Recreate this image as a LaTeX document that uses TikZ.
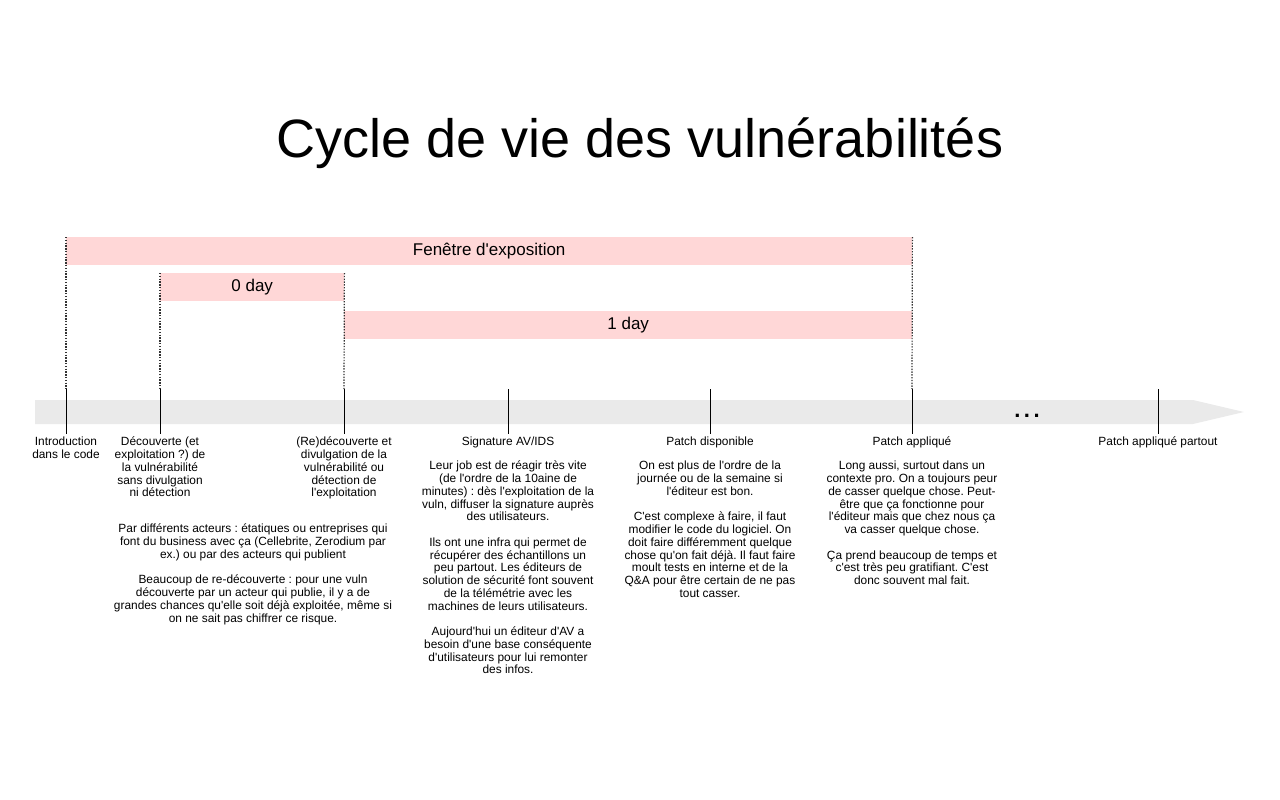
\documentclass[tikz,border=0pt]{standalone}
\usepackage{fontspec}
\setmainfont{Liberation Sans}[Ligatures=TeXOff]
\usetikzlibrary{positioning,calc}
\frenchspacing

\definecolor{expo}{RGB}{255,215,215}
\definecolor{axisgray}{RGB}{234,234,234}

\begin{document}
\begin{tikzpicture}[x=1pt, y=-1pt,
	band/.style = {fill=expo,
                   minimum height=28pt,
                   inner sep=0pt,
                   anchor=north west,
                   font=\fontsize{17}{20}\selectfont},
	tick lbl/.style = {anchor=north,
                   align=center,
                   inner sep=1pt,
                   font=\fontsize{11.9}{12.75}\selectfont},
	guide/.style = {line width=1.2pt, black!80, dash pattern=on 1.4pt off 1.4pt}
                   ]
\useasboundingbox (0,0) rectangle (1280,800);

% title
\node[font=\fontsize{54}{60}\selectfont] (title) at (640,143) {Cycle de vie des vulnérabilités};

% time axis
\fill[axisgray] (35,400) -- (1193,400) -- (1244,412) -- (1193,424) -- (35,424) -- cycle;
\node[font=\fontsize{22}{22}\selectfont\bfseries, anchor=base] (more) at (1027,417) {.\hspace{3.5pt}.\hspace{3.5pt}.};

\coordinate (intro)   at (66,389);
\coordinate (decouv)  at (160,389);
\coordinate (divulg)  at (344,389);
\coordinate (sig)     at (508,389);
\coordinate (dispo)   at (710,389);
\coordinate (appl)    at (912,389);
\coordinate (partout) at (1158,389);
\foreach \n in {intro, decouv, divulg, sig, dispo, appl, partout}
	\draw[line width=1pt] (\n) -- ++(0,45);

% windows
\node[band, minimum width=846pt] (expo) at (66,237) {Fenêtre d'exposition};
\node[band, minimum width=184pt] (zero) at (160,273) {0 day};
\node[band, minimum width=568pt] (one) at (344,311) {1 day};

\draw[guide] (expo.north west) -- (intro);
\draw[guide] (expo.north east) -- (appl);
\draw[guide] (zero.north west) -- (decouv);
\draw[guide] (zero.north east) -- (divulg);

% events
\node[tick lbl] (intro lbl) at (66,436) {Introduction\\dans le code};
\node[tick lbl] (decouv lbl) at (160,436) {Découverte (et\\exploitation ?) de\\la vulnérabilité\\sans divulgation\\ni détection};
\node[tick lbl] (divulg lbl) at (344,436) {(Re)découverte et\\divulgation de la\\vulnérabilité ou\\détection de\\l'exploitation};
\node[tick lbl] (sig lbl) at (508,436) {Signature AV/IDS};
\node[tick lbl] (dispo lbl) at (710,436) {Patch disponible};
\node[tick lbl] (appl lbl) at (912,436) {Patch appliqué};
\node[tick lbl] (partout lbl) at (1158,436) {Patch appliqué partout};

% notes
\node[tick lbl] (zero note) at (253,523) {Par différents acteurs : étatiques ou entreprises qui\\font du business avec ça (Cellebrite, Zerodium par\\ex.) ou par des acteurs qui publient\\[12.75pt]
Beaucoup de re-découverte : pour une vuln\\découverte par un acteur qui publie, il y a de\\grandes chances qu'elle soit déjà exploitée, même si\\on ne sait pas chiffrer ce risque.};

\node[tick lbl] (sig note) at (508,460) {Leur job est de réagir très vite\\(de l'ordre de la 10aine de\\minutes) : dès l'exploitation de la\\vuln, diffuser la signature auprès\\des utilisateurs.\\[12.75pt]
Ils ont une infra qui permet de\\récupérer des échantillons un\\peu partout. Les éditeurs de\\solution de sécurité font souvent\\de la télémétrie avec les\\machines de leurs utilisateurs.\\[12.75pt]
Aujourd'hui un éditeur d'AV a\\besoin d'une base conséquente\\d'utilisateurs pour lui remonter\\des infos.};

\node[tick lbl] (dispo note) at (710,460) {On est plus de l'ordre de la\\journée ou de la semaine si\\l'éditeur est bon.\\[12.75pt]
C'est complexe à faire, il faut\\modifier le code du logiciel. On\\doit faire différemment quelque\\chose qu'on fait déjà. Il faut faire\\moult tests en interne et de la\\Q\&A pour être certain de ne pas\\tout casser.};

\node[tick lbl] (appl note) at (912,460) {Long aussi, surtout dans un\\contexte pro. On a toujours peur\\de casser quelque chose. Peut-\\être que ça fonctionne pour\\l'éditeur mais que chez nous ça\\va casser quelque chose.\\[12.75pt]
Ça prend beaucoup de temps et\\c'est très peu gratifiant. C'est\\donc souvent mal fait.};
\end{tikzpicture}
\end{document}
